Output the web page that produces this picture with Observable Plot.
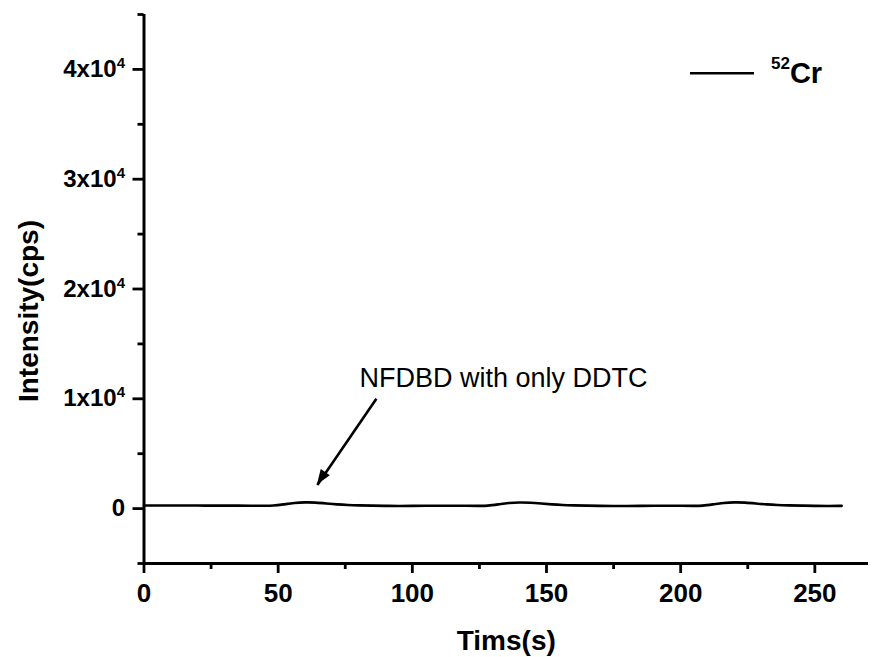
<!DOCTYPE html>
<html>
<head>
<meta charset="utf-8">
<script src="https://cdn.jsdelivr.net/npm/d3@7"></script>
<script src="https://cdn.jsdelivr.net/npm/@observablehq/plot@0.6"></script>
<style>
  html, body { margin: 0; padding: 0; background: #fff; }
  #chart { width: 874px; height: 657px; }
</style>
</head>
<body>
<div id="chart"></div>
<script>
// Time (s) and 52Cr intensity (cps)
const times = [0, 5, 10, 15, 20, 25, 30, 35, 40, 45, 48, 52, 56, 60, 64, 68, 72, 76, 80, 85, 90, 95, 100, 105, 110, 115, 120, 125, 128, 132, 136, 140, 144, 148, 152, 156, 160, 165, 170, 175, 180, 185, 190, 195, 200, 205, 208, 212, 216, 220, 224, 228, 232, 236, 240, 245, 250, 255, 260];
const intensity = [280, 280, 280, 280, 275, 275, 270, 270, 265, 260, 260, 380, 520, 580, 560, 470, 380, 320, 290, 270, 250, 240, 250, 260, 265, 265, 260, 250, 250, 380, 520, 570, 540, 460, 380, 320, 290, 270, 250, 235, 240, 250, 255, 255, 255, 250, 250, 380, 520, 580, 560, 470, 380, 320, 290, 270, 250, 240, 250];

const xMajor = [0, 50, 100, 150, 200, 250];
const xMinor = [25, 75, 125, 175, 225];
const yMajor = [0, 10000, 20000, 30000, 40000];
const yMinor = [-5000, 5000, 15000, 25000, 35000, 45000];
const xDomain = [0, 270];
const yDomain = [-5000, 45000];

const seriesName = "Cr";
const seriesMass = "52";
const annotationText = ["NFDBD with only DDTC"];
const annotationPos = [{x: 134, y: 11900}];
const arrowPos = [{x1: 86.6, y1: 10000, x2: 64.6, y2: 2150}];

const xTitle = "Tims(s)";
const yTitle = "Intensity(cps)";

const data = times.map((t, i) => ({t, v: intensity[i]}));
const font = "'Liberation Sans', Arial, Helvetica, sans-serif";

const plot = Plot.plot({
  width: 874,
  height: 657,
  marginLeft: 143.5,
  marginRight: 6,
  marginTop: 14,
  marginBottom: 94,
  x: {domain: xDomain},
  y: {domain: yDomain},
  style: {fontFamily: font, background: "#fff", color: "#000"},
  marks: [
    Plot.axisX({ticks: xMajor, tickSize: 10, tickPadding: 10, tickFormat: d => String(d),
      fontSize: 26, fontWeight: "bold", strokeWidth: 2.8, label: null}),
    Plot.axisX({ticks: xMinor, tickSize: 6, tickFormat: () => "", strokeWidth: 2.8, label: null}),
    Plot.axisY({ticks: yMajor, tickSize: 11, tickPadding: 8,
      tickFormat: d => d === 0 ? "0" : `${d / 1e4}x10^4`,
      fontSize: 24, fontWeight: "bold", strokeWidth: 2.8, label: null}),
    Plot.axisY({ticks: yMinor, tickSize: 6, tickFormat: () => "", strokeWidth: 2.8, label: null}),
    Plot.ruleX([xDomain[0]], {strokeWidth: 3}),
    Plot.ruleY([yDomain[0]], {strokeWidth: 3}),
    Plot.line(data, {x: "t", y: "v", curve: "basis", strokeWidth: 2.6, stroke: "#000"}),
    Plot.link(arrowPos, {x1: "x1", y1: "y1", x2: "x2", y2: "y2", stroke: "#000", strokeWidth: 2.6}),
    Plot.text(annotationText, {x: () => annotationPos[0].x, y: () => annotationPos[0].y,
      text: d => d, fontSize: 27, fill: "#000"}),
    Plot.text([xTitle], {frameAnchor: "bottom", dy: 78, text: d => d, fontSize: 28,
      fontWeight: "bold", lineAnchor: "middle"})
  ]
});

document.getElementById("chart").appendChild(plot);
const svg = d3.select(plot);

// thicker axis ticks
svg.selectAll('g[aria-label="x-axis tick"], g[aria-label="y-axis tick"]').attr("stroke-width", 2.8);

// superscripts in y tick labels
svg.selectAll('g[aria-label="y-axis tick label"] text').each(function() {
  const s = this.textContent;
  if (s.includes("^")) {
    const [base, exp] = s.split("^");
    const t = d3.select(this);
    t.text(null);
    t.append("tspan").text(base);
    t.append("tspan").attr("dy", -9).attr("font-size", 15).text(exp);
  }
});

// filled arrowhead, positioned through the plot's scales
const sx = plot.scale("x"), sy = plot.scale("y");
const a = arrowPos[0];
const X1 = sx.apply(a.x1), Y1 = sy.apply(a.y1), X2 = sx.apply(a.x2), Y2 = sy.apply(a.y2);
const ang = Math.atan2(Y2 - Y1, X2 - X1);
const L = 15, W = 5.5;
const bx = X2 - L * Math.cos(ang), by = Y2 - L * Math.sin(ang);
const px = -Math.sin(ang), py = Math.cos(ang);
svg.append("path")
  .attr("d", `M${X2},${Y2}L${bx + W * px},${by + W * py}L${bx - W * px},${by - W * py}Z`)
  .attr("fill", "#000");

// y axis title
svg.append("text")
  .attr("transform", `translate(28,311) rotate(-90)`)
  .attr("text-anchor", "middle").attr("dy", "0.35em")
  .attr("font-family", font).attr("font-size", 28).attr("font-weight", "bold")
  .attr("fill", "#000").text(yTitle);

// legend (inside the frame, top-right)
const lg = svg.append("g").attr("font-family", font).attr("text-anchor", "start");
lg.append("line").attr("x1", 690).attr("x2", 754).attr("y1", 73.3).attr("y2", 73.3)
  .attr("stroke", "#000").attr("stroke-width", 2.4);
const lt = lg.append("text").attr("x", 771).attr("y", 83).attr("font-weight", "bold").attr("fill", "#000");
lt.append("tspan").attr("font-size", 17).attr("dy", -14).text(seriesMass);
lt.append("tspan").attr("font-size", 29).attr("dy", 14).text(seriesName);
</script>
</body>
</html>
